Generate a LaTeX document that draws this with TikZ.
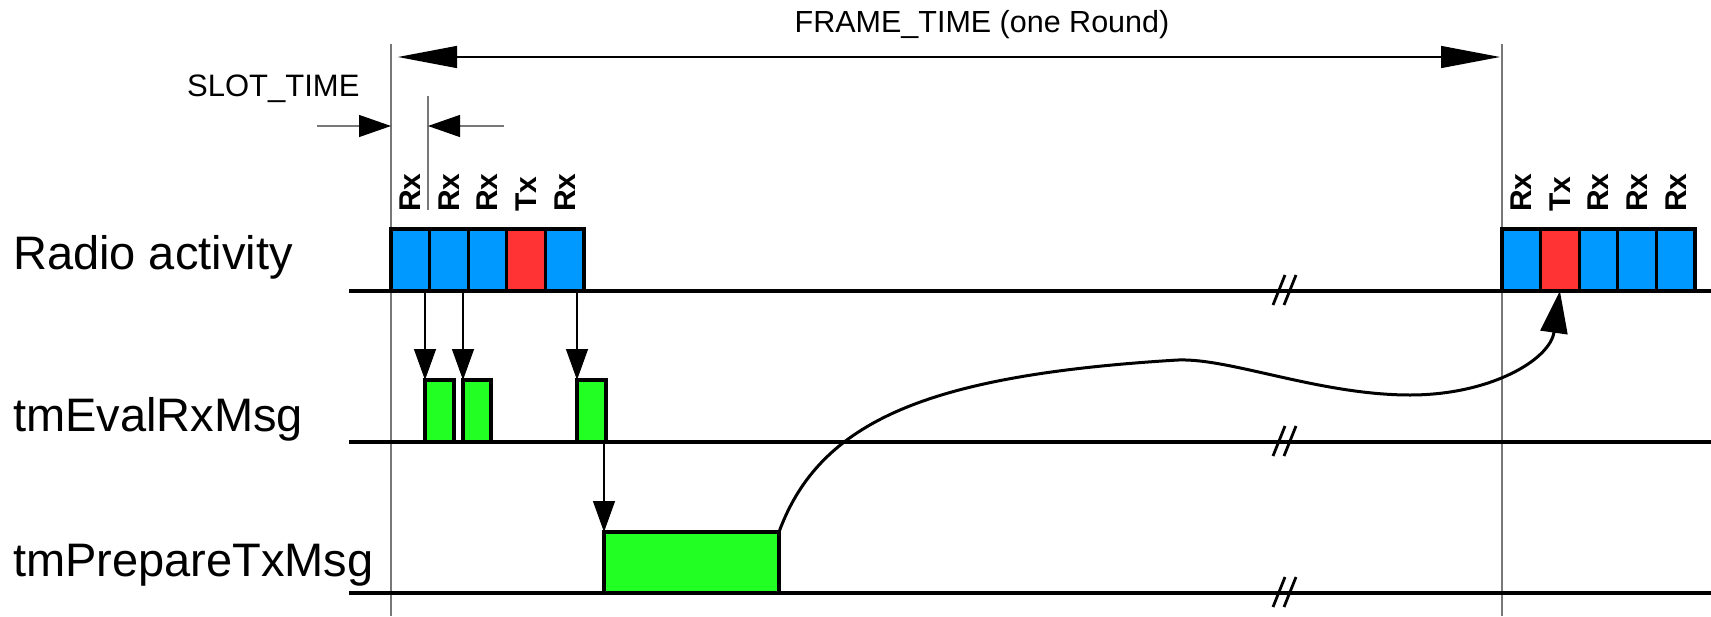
\documentclass[tikz,border=0pt]{standalone}
\usepackage{fontspec}
\setmainfont{Liberation Sans}
\usetikzlibrary{positioning,arrows.meta}
\definecolor{rxcolor}{RGB}{0,153,255}
\definecolor{txcolor}{RGB}{255,51,51}
\definecolor{taskcolor}{RGB}{34,255,34}
\definecolor{guidecolor}{RGB}{120,120,120}

\begin{document}
\begin{tikzpicture}[x=1pt,y=-1pt]
  % Styles for the slots, tasks and time lines
  \tikzset{
    slotlabel/.style={rotate=90, anchor=west, inner sep=0pt, font=\bfseries\fontsize{30}{30}\selectfont},
    slot/.style={rectangle, draw=black, line width=3.2pt, minimum width=38.6pt, minimum height=62pt, inner sep=0pt, outer sep=0pt},
    rxslot/.style={slot, fill=rxcolor},
    txslot/.style={slot, fill=txcolor},
    task/.style={rectangle, draw=black, line width=3.2pt, fill=taskcolor, inner sep=0pt, outer sep=0pt, anchor=south west, minimum height=62pt},
    rowlabel/.style={anchor=base west, inner sep=0pt, font=\fontsize{47}{47}\selectfont},
    timeline/.style={line width=3.4pt},
    brk/.style={line width=2.8pt},
    guide/.style={draw=guidecolor, line width=1.5pt},
    flow/.style={line width=1.3pt, -{Triangle[length=31pt,width=22pt]}},
    dim/.style={line width=1.3pt, {Triangle[length=59pt,width=22pt]}-{Triangle[length=59pt,width=22pt]}},
    slotdim/.style={line width=1.3pt, draw=guidecolor, -{Triangle[length=32pt,width=22pt,color=black]}},
    trigger/.style={line width=3pt, -{Triangle[length=42pt,width=27pt]}}
  }
  \useasboundingbox (0,0) rectangle (1711,616);

  % Row names
  \node[rowlabel] (lradio) at (13,269) {Radio activity};
  \node[rowlabel] (leval) at (13,431) {tmEvalRxMsg};
  \node[rowlabel] (lprep) at (13,576) {tmPrepareTxMsg};

  % Frame and slot guides
  \coordinate (gl) at (391,44);
  \coordinate (gr) at (1502,44);
  \draw[guide] (gl) -- (391,616);
  \draw[guide] (gr) -- (1502,616);
  \draw[guide] (428,96) -- (428,210);
  \coordinate (fa) at (398,57);
  \coordinate (fb) at (1500,57);
  \draw[dim] (fa) -- (fb);
  \node[font=\fontsize{30.5}{30.5}\selectfont, anchor=base] (frame) at (982,32) {FRAME\_TIME (one Round)};
  \node[font=\fontsize{31}{31}\selectfont, anchor=base west, inner sep=0pt] (slottime) at (187,96) {SLOT\_TIME};
  \draw[slotdim] (317,126) -- (391,126);
  \draw[slotdim] (504,126) -- (428,126);

  % Time lines with breaks
  \foreach \y in {291,442,593} {
    \draw[timeline] (349,\y) -- (1711,\y);
    \draw[brk] (1273,\y+14) -- (1285,\y-16);
    \draw[brk] (1284,\y+14) -- (1296,\y-16);
  }

  % Radio slots, first round
  \node[rxslot, anchor=south west] (r1) at (391,291) {};
  \node[rxslot, right=0pt of r1] (r2) {};
  \node[rxslot, right=0pt of r2] (r3) {};
  \node[txslot, right=0pt of r3] (r4) {};
  \node[rxslot, right=0pt of r4] (r5) {};

  % Radio slots, next round
  \node[rxslot, anchor=south west] (n1) at (1502,291) {};
  \node[txslot, right=0pt of n1] (n2) {};
  \node[rxslot, right=0pt of n2] (n3) {};
  \node[rxslot, right=0pt of n3] (n4) {};
  \node[rxslot, right=0pt of n4] (n5) {};

  % Slot names
  \node[above=17pt of r1, slotlabel] (tr1) {Rx};
  \node[above=17pt of r2, slotlabel] (tr2) {Rx};
  \node[above=17pt of r3, slotlabel] (tr3) {Rx};
  \node[above=17pt of r4, slotlabel] (tr4) {Tx};
  \node[above=17pt of r5, slotlabel] (tr5) {Rx};
  \node[above=17pt of n1, slotlabel] (tn1) {Rx};
  \node[above=17pt of n2, slotlabel] (tn2) {Tx};
  \node[above=17pt of n3, slotlabel] (tn3) {Rx};
  \node[above=17pt of n4, slotlabel] (tn4) {Rx};
  \node[above=17pt of n5, slotlabel] (tn5) {Rx};

  % Tasks
  \node[task, minimum width=29pt] (e1) at (425,442) {};
  \node[task, minimum width=28pt] (e2) at (463,442) {};
  \node[task, minimum width=29pt] (e3) at (577,442) {};
  \node[task, minimum width=175pt, minimum height=61pt] (prep) at (604,593) {};

  % Triggers
  \draw[flow] (e1.north west |- r1.south) -- (e1.north west);
  \draw[flow] (e2.north west |- r1.south) -- (e2.north west);
  \draw[flow] (e3.north west |- r1.south) -- (e3.north west);
  \draw[flow] (prep.north west |- e3.south) -- (prep.north west);
  \draw[trigger] (prep.north east) .. controls (820,420) and (930,375) .. (1178,360)
    .. controls (1230,358) and (1320,395) .. (1410,395)
    .. controls (1490,395) and (1550,360) .. (n2.south);
\end{tikzpicture}
\end{document}
